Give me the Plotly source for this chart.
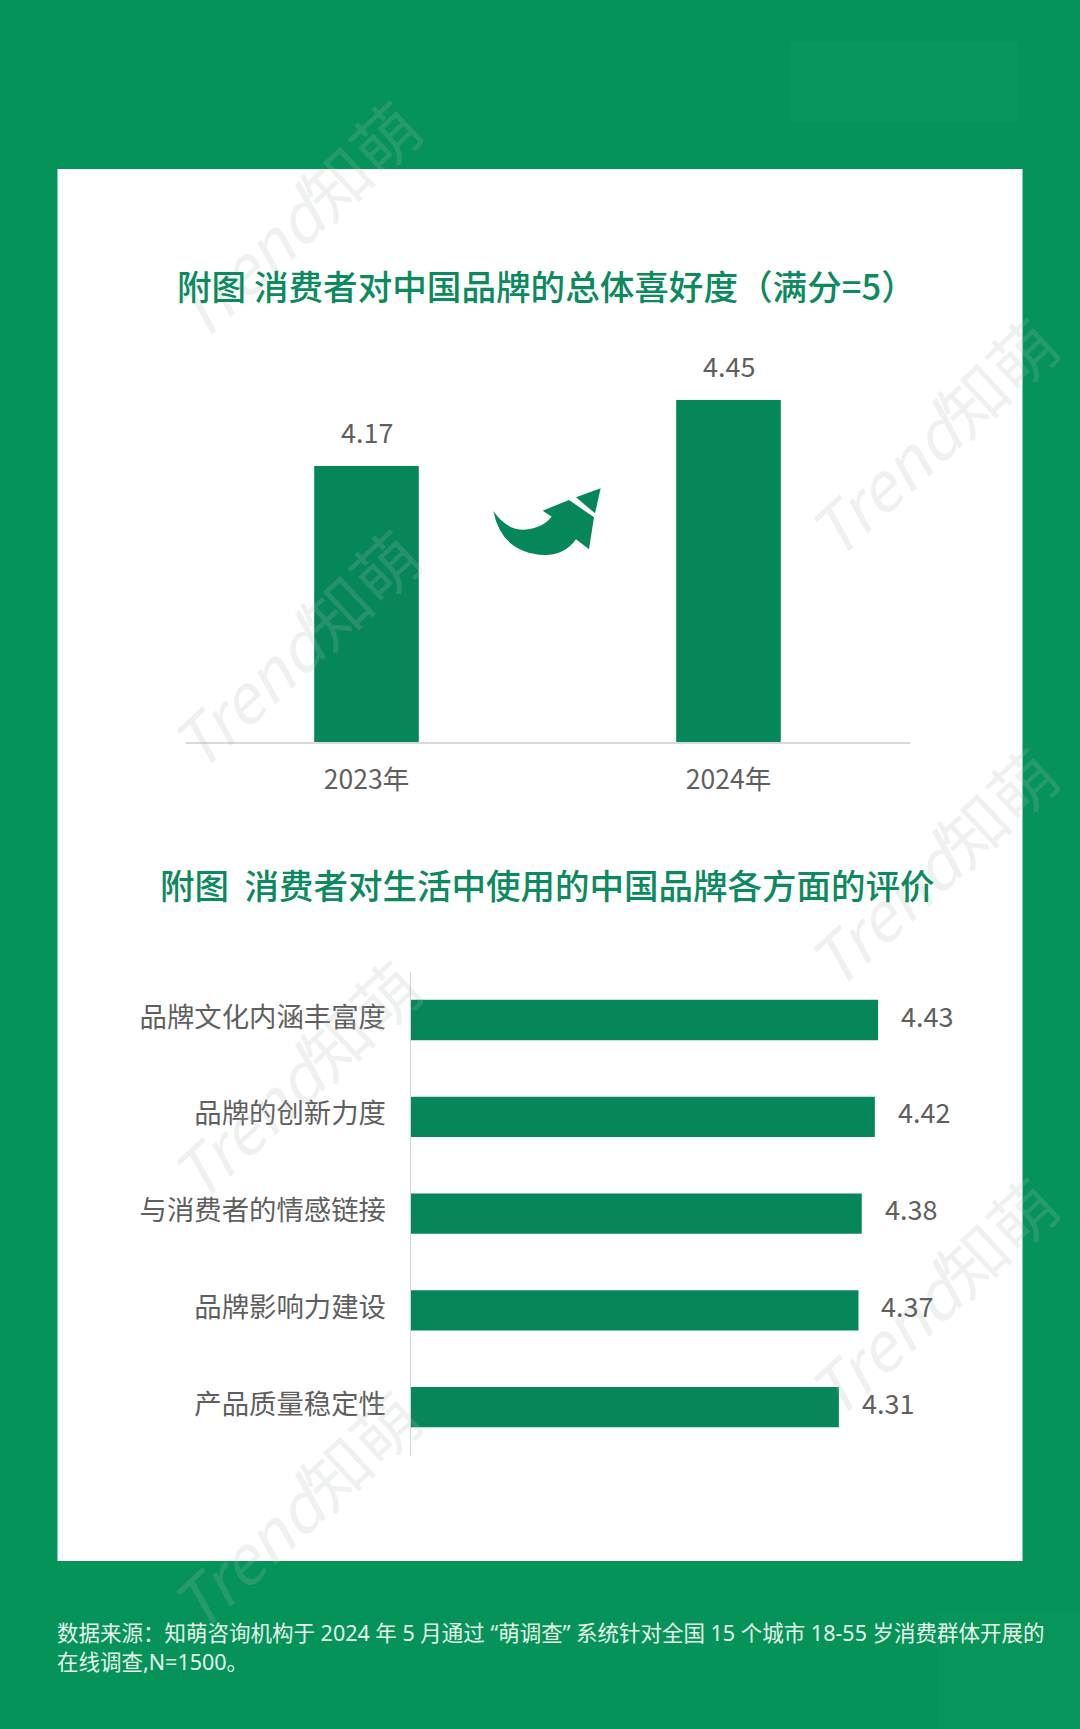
import plotly.graph_objects as go

W, H = 1080, 1729
years = ["2023年", "2024年"]
overall_scores = [4.17, 4.45]
aspects = ["品牌文化内涵丰富度", "品牌的创新力度", "与消费者的情感链接", "品牌影响力建设", "产品质量稳定性"]
aspect_scores = [4.43, 4.42, 4.38, 4.37, 4.31]
title_top = "附图 消费者对中国品牌的总体喜好度（满分=5）"
title_bottom = "附图  消费者对生活中使用的中国品牌各方面的评价"
source_lines = ["数据来源：知萌咨询机构于 2024 年 5 月通过 “萌调查” 系统针对全国 15 个城市 18-55 岁消费群体开展的", "在线调查,N=1500。"]
wm_centres = [(293, 219), (293, 648), (293, 1079), (293, 1509), (930, 436), (930, 866), (930, 1296)]

BG = "#05935a"
BAR = "#05875a"
TITLE = "#0b8a5e"
GREY = "#5f5f5f"
CJK = "Noto Sans CJK SC"
MIXED = "Noto Sans, Noto Sans CJK SC"


def px(x):
    return x / W


def py(y):
    return 1 - y / H


fig = go.Figure()
fig.add_trace(go.Bar(x=years, y=overall_scores, width=0.289, marker=dict(color=BAR, line_width=0), xaxis="x", yaxis="y", hoverinfo="skip"))
fig.add_trace(go.Bar(x=aspect_scores, y=aspects, width=0.416, orientation="h", marker=dict(color=BAR, line_width=0), xaxis="x2", yaxis="y2", hoverinfo="skip"))

ann = []
# watermarks
for cx, cy in wm_centres:
    ann.append(dict(text="<i>Trend</i>知萌", x=px(cx), y=py(cy), xref="paper", yref="paper", showarrow=False,
                    xanchor="center", yanchor="middle", textangle=-43,
                    font=dict(family=CJK, size=66, color="rgba(170,185,178,0.20)")))
# titles
ann.append(dict(text=title_top, x=px(546), y=py(285), xref="paper", yref="paper", showarrow=False,
                xanchor="center", yanchor="middle", font=dict(family=CJK, size=34.6, color=TITLE, weight=500)))
ann.append(dict(text=title_bottom, x=px(547), y=py(884), xref="paper", yref="paper", showarrow=False,
                xanchor="center", yanchor="middle", font=dict(family=CJK, size=34.5, color=TITLE, weight=500)))
# value labels
for c, v in zip(years, overall_scores):
    ann.append(dict(text=f"{v:.2f}", x=c, y=v, xref="x", yref="y", showarrow=False, xanchor="center", yanchor="middle", yshift=34,
                    font=dict(family=CJK, size=27, color=GREY)))
for c, v in zip(aspects, aspect_scores):
    ann.append(dict(text=f"{v:.2f}", x=v, y=c, xref="x2", yref="y2", showarrow=False, xanchor="left", yanchor="middle", xshift=21, yshift=5,
                    font=dict(family=CJK, size=27, color=GREY)))
# source
for t, yy in zip(source_lines, (1632, 1661)):
    ann.append(dict(text=t, x=px(55), y=py(yy), xref="paper", yref="paper", showarrow=False, xanchor="left", yanchor="middle",
                    font=dict(family=MIXED, size=21.5, color="#e6f3ea")))


def P(a, b):
    return f"{px(470 + a / 3):.5f},{py(460 + b / 3):.5f}"


arrow_body = (f"M{P(70,153)} Q{P(120,225)} {P(190,205)} Q{P(225,195)} {P(245,170)} L{P(218,152)} L{P(297,120)} "
              f"L{P(372,172)} L{P(357,268)} L{P(318,238)} Q{P(285,285)} {P(225,285)} Q{P(95,280)} {P(70,153)} Z")
arrow_head = f"M{P(318,112)} L{P(392,85)} L{P(375,160)} Z"

shapes = [
    dict(type="rect", xref="paper", yref="paper", x0=px(57.5), x1=px(1022.5), y0=py(1561), y1=py(169),
         fillcolor="white", line_width=0, layer="below"),
    dict(type="rect", xref="paper", yref="paper", x0=px(790), x1=px(1018), y0=py(42), y1=py(122),
         fillcolor="rgba(30,170,110,0.13)", line_width=0, layer="below"),
    dict(type="rect", xref="paper", yref="paper", x0=px(938), x1=px(1080), y0=py(1612), y1=py(1729),
         fillcolor="rgba(25,160,85,0.22)", line_width=0, layer="below"),
    dict(type="path", xref="paper", yref="paper", path=arrow_body, fillcolor=BAR, line_width=0),
    dict(type="path", xref="paper", yref="paper", path=arrow_head, fillcolor=BAR, line_width=0),
]

fig.update_layout(
    width=W, height=H, margin=dict(l=0, r=0, t=0, b=0), paper_bgcolor=BG, plot_bgcolor="rgba(0,0,0,0)",
    showlegend=False, annotations=ann, shapes=shapes,
    font=dict(family=CJK),
    xaxis=dict(domain=[px(185.5), px(909.5)], anchor="y", type="category", showgrid=False, showline=True,
               linecolor="#d9d9d9", linewidth=1.5, ticks="", ticklabelstandoff=13,
               tickfont=dict(family=CJK, size=26.5, color=GREY), fixedrange=True),
    yaxis=dict(domain=[py(742), py(270.2)], anchor="x", range=[3, 5], visible=False, fixedrange=True),
    xaxis2=dict(domain=[px(410.5), px(1064.5)], anchor="y2", range=[3, 5], visible=False, fixedrange=True),
    yaxis2=dict(domain=[py(1455.6), py(971.6)], anchor="x2", type="category", autorange="reversed", showgrid=False,
                showline=True, linecolor="#d4d4d4", linewidth=1, ticks="", ticklabelstandoff=18, ticklabelshift=3,
                tickfont=dict(family=CJK, size=27.4, color=GREY), fixedrange=True),
)

fig.write_html("out.html", config={"displayModeBar": False},
               post_script="document.body.style.margin='0';document.documentElement.style.background='#05935a';")
